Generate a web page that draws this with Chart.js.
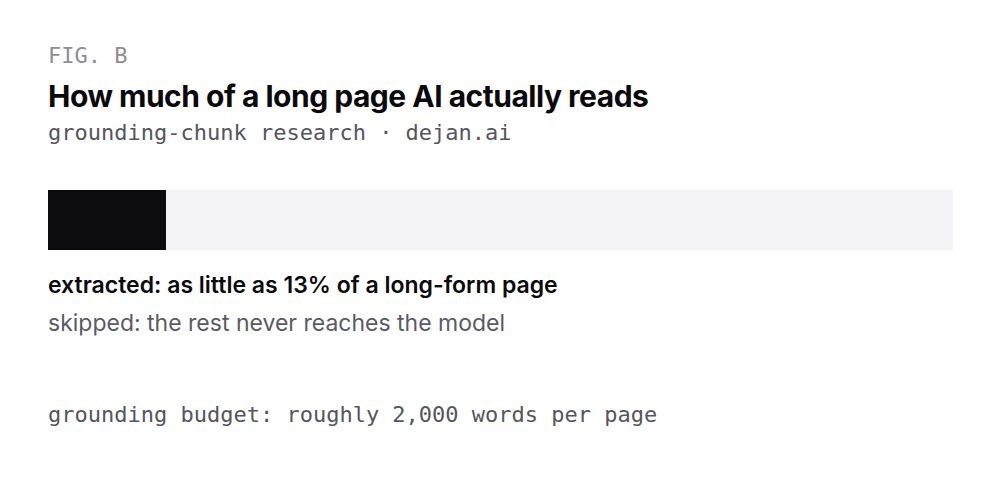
<!DOCTYPE html>
<html>
<head>
<meta charset="utf-8">
<script src="https://cdn.jsdelivr.net/npm/chart.js@4"></script>
<style>
  html, body { margin: 0; padding: 0; background: #ffffff; }
  body { width: 1000px; height: 480px; position: relative; overflow: hidden; }
  .t { position: absolute; left: 48px; white-space: nowrap; line-height: 1; }
  .mono { font-family: "DejaVu Sans Mono", monospace; font-size: 22px; letter-spacing: 0; }
  #fig { top: 45px; color: #8e8e96; }
  #title { top: 81px; font-family: Inter, sans-serif; font-weight: 700; font-size: 30px; color: #0a0a0c; letter-spacing: -0.5px; }
  #sub { top: 122px; color: #55555f; }
  #wrap { position: absolute; left: 48px; top: 190px; width: 905px; height: 60px; }
  #l1 { top: 274px; font-family: Inter, sans-serif; font-weight: 600; font-size: 23px; color: #0a0a0c; }
  #l2 { top: 312px; font-family: Inter, sans-serif; font-weight: 400; font-size: 23px; color: #5a5a66; }
  #foot { top: 404px; color: #55555f; }
</style>
</head>
<body>
<div class="t mono" id="fig"></div>
<div class="t" id="title"></div>
<div class="t mono" id="sub"></div>
<div id="wrap"><canvas id="c"></canvas></div>
<div class="t" id="l1"></div>
<div class="t" id="l2"></div>
<div class="t mono" id="foot"></div>
<script>
const figLabel = "FIG. B";
const titleText = "How much of a long page AI actually reads";
const subtitleText = "grounding-chunk research · dejan.ai";
const categories = ["long-form page"];
const seriesNames = ["extracted", "skipped"];
const extractedValues = [13];
const skippedValues = [87];
const seriesColors = ["#0c0c0e", "#f3f3f5"];
const legendTexts = ["extracted: as little as 13% of a long-form page", "skipped: the rest never reaches the model"];
const footText = "grounding budget: roughly 2,000 words per page";

document.getElementById('fig').textContent = figLabel;
document.getElementById('title').textContent = titleText;
document.getElementById('sub').textContent = subtitleText;
document.getElementById('l1').textContent = legendTexts[0];
document.getElementById('l2').textContent = legendTexts[1];
document.getElementById('foot').textContent = footText;

new Chart(document.getElementById('c'), {
  type: 'bar',
  data: {
    labels: categories,
    datasets: [
      { label: seriesNames[0], data: extractedValues, backgroundColor: seriesColors[0], borderWidth: 0, categoryPercentage: 1, barPercentage: 1 },
      { label: seriesNames[1], data: skippedValues, backgroundColor: seriesColors[1], borderWidth: 0, categoryPercentage: 1, barPercentage: 1 }
    ]
  },
  options: {
    indexAxis: 'y',
    responsive: true,
    maintainAspectRatio: false,
    animation: false,
    layout: { padding: 0 },
    plugins: { legend: { display: false }, tooltip: { enabled: false }, title: { display: false } },
    scales: {
      x: { stacked: true, min: 0, max: 100, display: false },
      y: { stacked: true, display: false }
    }
  }
});
</script>
</body>
</html>
